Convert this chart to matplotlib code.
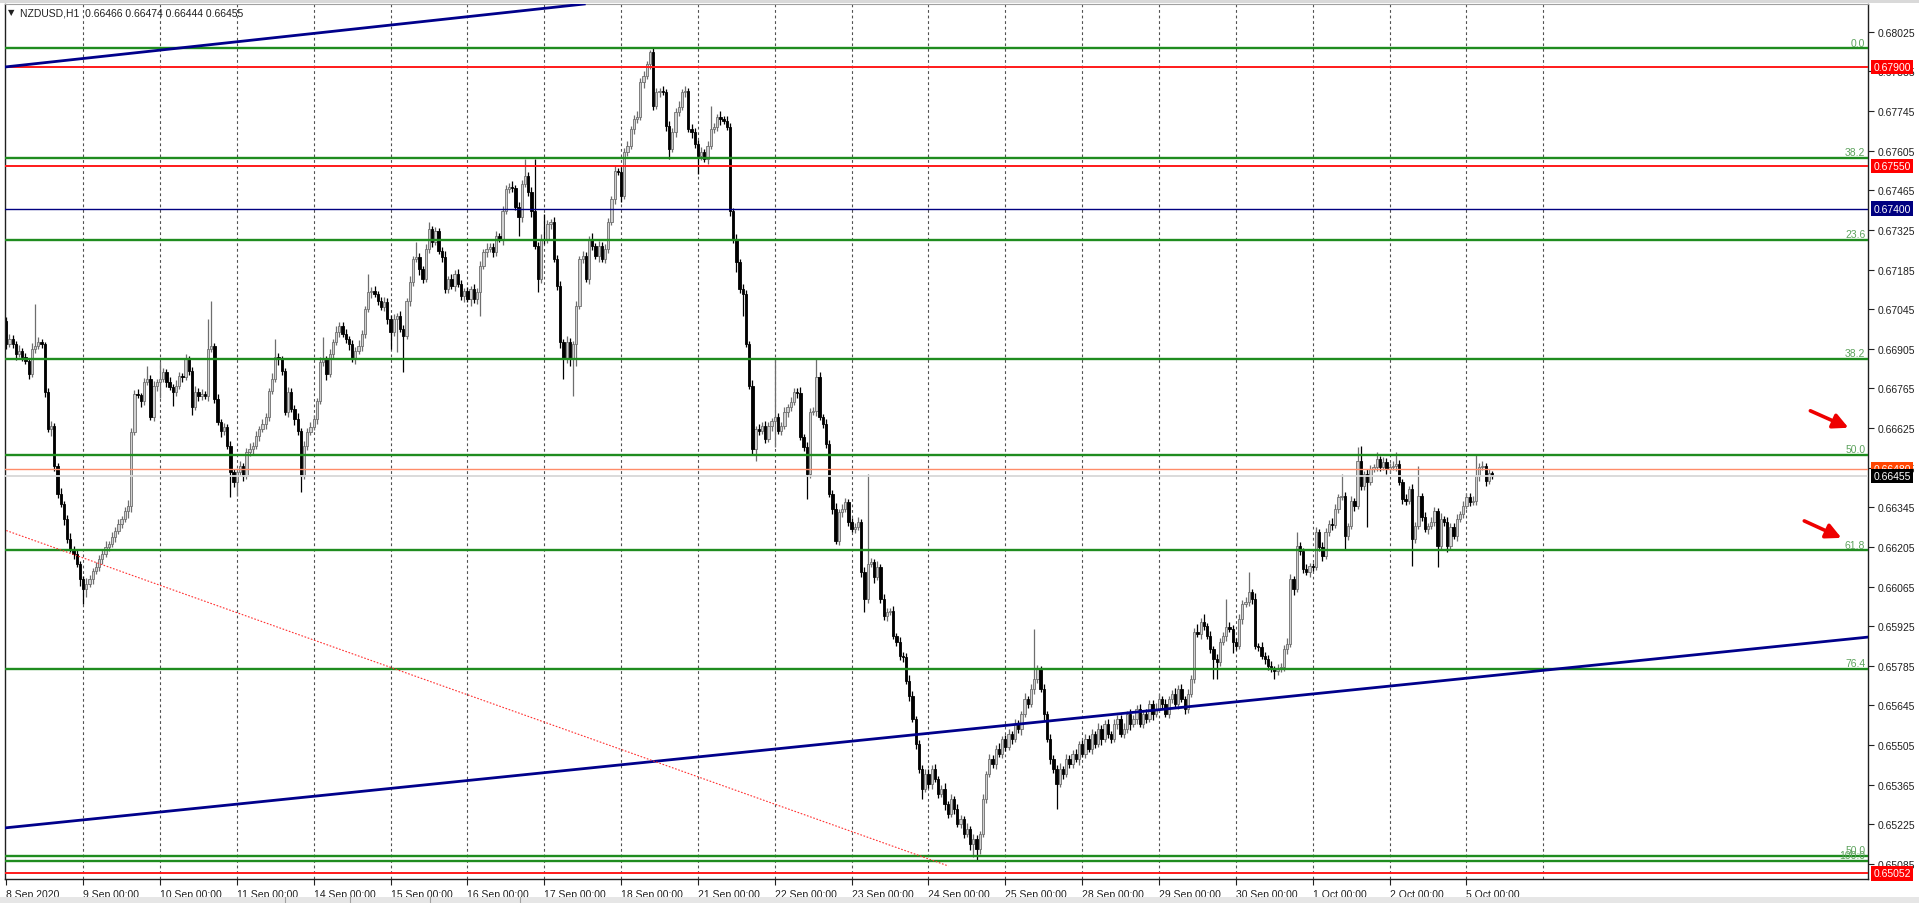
import numpy as np
import matplotlib
matplotlib.use("Agg")
import matplotlib.pyplot as plt
from matplotlib.transforms import blended_transform_factory
from matplotlib.patches import Rectangle

plt.rcParams['font.family'] = ['Liberation Sans', 'DejaVu Sans']

symbol = "NZDUSD,H1"
last_ohlc = "0.66466 0.66474 0.66444 0.66455"

day_labels = ["8 Sep 2020", "9 Sep 00:00", "10 Sep 00:00", "11 Sep 00:00", "14 Sep 00:00",
              "15 Sep 00:00", "16 Sep 00:00", "17 Sep 00:00", "18 Sep 00:00", "21 Sep 00:00",
              "22 Sep 00:00", "23 Sep 00:00", "24 Sep 00:00", "25 Sep 00:00", "28 Sep 00:00",
              "29 Sep 00:00", "30 Sep 00:00", "1 Oct 00:00", "2 Oct 00:00", "5 Oct 00:00"]
bars_per_day = 24

# hourly closes in points (1e-5), open of each bar = previous close
first_open = 67004
close_pts = [
    66922, 66940, 66922, 66887, 66898, 66876, 66862, 66816, 66905, 66915, 66929, 66922, 66753, 66622, 66633, 66491, 66393, 66357, 66304, 66234, 66198, 66181, 66145, 66092,
    66057, 66074, 66092, 66120, 66135, 66163, 66181, 66205, 66216, 66241, 66262, 66287, 66304, 66332, 66350, 66612, 66746, 66740, 66721, 66788, 66799, 66665, 66774, 66788,
    66799, 66823, 66788, 66770, 66753, 66774, 66809, 66806, 66869, 66827, 66700, 66753, 66739, 66746, 66739, 66905, 66915, 66728, 66647, 66615, 66629, 66562, 66470, 66435,
    66470, 66491, 66456, 66541, 66551, 66562, 66597, 66622, 66640, 66665, 66756, 66799, 66876, 66869, 66827, 66682, 66753, 66693, 66657, 66615, 66456, 66562, 66612, 66629,
    66657, 66721, 66859, 66869, 66816, 66887, 66929, 66965, 66986, 66958, 66940, 66922, 66869, 66898, 66915, 66958, 67046, 67106, 67110, 67099, 67074, 67053, 67071, 67011,
    66965, 67011, 67021, 66975, 66951, 67074, 67141, 67223, 67230, 67187, 67152, 67258, 67328, 67283, 67321, 67251, 67230, 67117, 67152, 67127, 67170, 67134, 67092, 67110,
    67081, 67117, 67081, 67106, 67198, 67247, 67258, 67265, 67247, 67304, 67293, 67392, 67470, 67477, 67474, 67406, 67371, 67488, 67516, 67459, 67392, 67269, 67152, 67293,
    67290, 67346, 67353, 67223, 67127, 66929, 66869, 66929, 66869, 66922, 67057, 67223, 67233, 67152, 67293, 67269, 67233, 67269, 67223, 67258, 67353, 67435, 67533, 67530,
    67445, 67601, 67622, 67682, 67717, 67724, 67848, 67869, 67911, 67954, 67763, 67812, 67816, 67812, 67692, 67611, 67671, 67742, 67759, 67812, 67816, 67682, 67671, 67629,
    67586, 67601, 67576, 67622, 67682, 67689, 67724, 67717, 67710, 67689, 67392, 67293, 67212, 67117, 67099, 66922, 66774, 66551, 66622, 66615, 66633, 66587, 66633, 66650,
    66665, 66615, 66633, 66682, 66700, 66717, 66753, 66750, 66594, 66559, 66463, 66682, 66686, 66806, 66665, 66640, 66569, 66393, 66340, 66226, 66329, 66340, 66364, 66294,
    66269, 66276, 66294, 66117, 66022, 66145, 66152, 66099, 66135, 66022, 65962, 65976, 65979, 65891, 65870, 65820, 65817, 65732, 65679, 65598, 65509, 65421, 65350, 65403,
    65368, 65421, 65386, 65333, 65350, 65297, 65262, 65315, 65280, 65227, 65244, 65191, 65209, 65156, 65174, 65138, 65191, 65315, 65403, 65456, 65439, 65492, 65474, 65527,
    65499, 65545, 65527, 65580, 65562, 65615, 65668, 65651, 65704, 65739, 65774, 65704, 65615, 65527, 65456, 65421, 65368, 65421, 65403, 65456, 65439, 65474, 65456, 65509,
    65474, 65527, 65492, 65545, 65509, 65562, 65527, 65580, 65545, 65527, 65580, 65598, 65545, 65562, 65615, 65580, 65598, 65633, 65580, 65615, 65598, 65651, 65615, 65633,
    65668, 65651, 65615, 65668, 65686, 65651, 65704, 65668, 65633, 65686, 65739, 65905, 65898, 65940, 65926, 65891, 65845, 65810, 65799, 65870, 65891, 65923, 65916, 65870,
    65856, 65951, 66004, 66011, 66046, 66022, 65856, 65852, 65820, 65810, 65785, 65774, 65767, 65774, 65781, 65845, 65863, 66092, 66057, 66209, 66191, 66128, 66117, 66138,
    66135, 66258, 66205, 66174, 66258, 66287, 66284, 66340, 66382, 66385, 66244, 66279, 66368, 66350, 66509, 66421, 66463, 66435, 66481, 66488, 66516, 66488, 66506, 66481,
    66488, 66491, 66498, 66435, 66375, 66368, 66410, 66234, 66279, 66385, 66311, 66269, 66279, 66294, 66332, 66209, 66304, 66294, 66209, 66276, 66244, 66304, 66322, 66350,
    66382, 66364, 66368, 66456, 66488, 66491, 66438, 66466, 66455,
]
# upper / lower shadow length in points
wick_up = [
    14, 18, 12, 10, 20, 11, 15, 9, 22, 148, 16, 12, 8, 14, 18, 10, 12, 20, 9, 14, 22, 12, 17, 10,
    12, 20, 15, 10, 18, 12, 14, 22, 10, 16, 12, 18, 10, 14, 20, 12, 15, 18, 10, 14, 46, 12, 16, 10,
    60, 14, 10, 18, 12, 20, 15, 12, 18, 10, 14, 22, 12, 16, 10, 106, 159, 12, 18, 10, 14, 12, 16, 10,
    12, 18, 10, 14, 20, 12, 16, 10, 18, 14, 12, 20, 64, 15, 12, 10, 18, 14, 12, 20, 10, 16, 12, 18,
    14, 10, 18, 78, 12, 16, 10, 20, 14, 12, 18, 10, 15, 12, 20, 14, 10, 64, 12, 18, 10, 14, 16, 12,
    12, 16, 10, 18, 14, 12, 20, 10, 53, 14, 12, 18, 25, 10, 16, 12, 14, 20, 10, 18, 12, 16, 14, 10,
    14, 10, 18, 12, 16, 10, 20, 14, 12, 18, 10, 16, 14, 12, 20, 10, 18, 12, 60, 14, 16, 184, 12, 18,
    88, 14, 10, 18, 12, 16, 10, 20, 14, 12, 18, 10, 16, 14, 12, 20, 10, 18, 12, 16, 14, 10, 18, 12,
    16, 12, 18, 10, 14, 20, 12, 16, 10, 8, 13, 14, 12, 18, 10, 16, 14, 12, 20, 10, 18, 12, 16, 14,
    12, 16, 10, 18, 81, 14, 12, 20, 10, 16, 14, 12, 18, 10, 16, 14, 12, 20, 10, 18, 12, 16, 14, 10,
    205, 14, 12, 18, 10, 16, 14, 12, 20, 10, 18, 14, 12, 64, 16, 10, 18, 14, 12, 20, 10, 16, 14, 12,
    14, 12, 18, 10, 16, 318, 14, 12, 20, 10, 18, 14, 12, 16, 10, 18, 14, 12, 20, 16, 10, 14, 12, 18,
    16, 12, 18, 10, 14, 20, 12, 16, 10, 18, 14, 12, 20, 10, 16, 14, 12, 18, 10, 16, 14, 12, 20, 10,
    12, 18, 10, 16, 14, 12, 20, 10, 18, 177, 14, 12, 16, 10, 18, 14, 12, 20, 10, 16, 14, 12, 18, 10,
    14, 18, 12, 16, 10, 20, 14, 12, 18, 10, 16, 14, 12, 20, 10, 18, 14, 12, 16, 10, 18, 14, 12, 20,
    16, 12, 18, 10, 14, 20, 12, 16, 10, 18, 14, 12, 28, 14, 28, 12, 16, 10, 18, 14, 12, 99, 16, 12,
    14, 18, 12, 16, 71, 12, 20, 10, 16, 14, 12, 18, 10, 16, 14, 12, 20, 18, 12, 49, 14, 10, 16, 12,
    12, 16, 10, 18, 14, 12, 20, 16, 10, 78, 14, 12, 18, 10, 49, 53, 12, 16, 14, 10, 25, 12, 16, 14,
    12, 16, 42, 14, 10, 18, 12, 16, 14, 106, 12, 18, 10, 16, 14, 12, 20, 10, 16, 14, 12, 18, 10, 16,
    14, 12, 16, 78, 12, 18, 10, 14, 8,
]
wick_dn = [
    18, 12, 15, 20, 10, 14, 9, 18, 12, 16, 10, 14, 20, 12, 25, 18, 15, 10, 22, 14, 12, 18, 10, 25,
    55, 30, 12, 18, 10, 14, 20, 12, 16, 10, 18, 12, 14, 10, 25, 20, 12, 10, 22, 14, 12, 10, 15, 18,
    56, 12, 18, 10, 50, 14, 12, 20, 10, 16, 30, 12, 18, 14, 10, 20, 12, 15, 10, 22, 14, 12, 88, 18,
    49, 12, 18, 10, 14, 20, 12, 16, 10, 18, 14, 12, 10, 20, 15, 12, 18, 10, 22, 14, 56, 12, 16, 10,
    12, 18, 10, 14, 20, 12, 16, 10, 18, 12, 14, 20, 10, 16, 12, 18, 14, 10, 20, 12, 16, 10, 14, 18,
    60, 14, 117, 12, 127, 10, 18, 14, 12, 20, 16, 10, 14, 18, 12, 10, 20, 14, 16, 12, 18, 10, 14, 20,
    12, 25, 14, 18, 85, 12, 16, 10, 18, 14, 12, 20, 10, 16, 14, 12, 67, 18, 10, 14, 20, 12, 46, 16,
    14, 12, 18, 10, 16, 20, 71, 14, 25, 131, 78, 12, 16, 10, 18, 14, 12, 20, 10, 16, 14, 12, 18, 10,
    20, 12, 16, 10, 18, 14, 12, 20, 10, 16, 14, 12, 18, 10, 16, 35, 12, 18, 14, 10, 16, 12, 20, 14,
    64, 14, 12, 18, 10, 16, 14, 20, 12, 10, 18, 14, 35, 16, 78, 12, 10, 18, 42, 14, 12, 16, 10, 18,
    92, 12, 16, 10, 18, 14, 12, 20, 10, 16, 88, 14, 12, 18, 10, 16, 14, 12, 20, 11, 14, 18, 12, 16,
    12, 16, 10, 18, 46, 14, 12, 20, 10, 16, 14, 18, 12, 10, 16, 14, 20, 12, 18, 10, 16, 14, 35, 12,
    14, 18, 12, 16, 10, 20, 14, 12, 18, 10, 16, 14, 12, 20, 46, 42, 18, 12, 16, 10, 14, 20, 12, 16,
    16, 12, 18, 10, 14, 20, 12, 16, 10, 18, 14, 12, 20, 10, 16, 14, 88, 12, 18, 10, 16, 14, 12, 20,
    12, 16, 10, 18, 14, 12, 20, 10, 16, 14, 12, 18, 10, 16, 14, 20, 12, 18, 10, 16, 14, 12, 20, 10,
    12, 18, 10, 16, 14, 12, 20, 10, 18, 14, 12, 16, 10, 18, 14, 12, 16, 71, 60, 14, 12, 18, 10, 40,
    16, 12, 18, 10, 14, 20, 12, 16, 10, 18, 14, 12, 28, 16, 10, 14, 18, 12, 20, 10, 16, 14, 12, 18,
    14, 12, 16, 18, 10, 14, 20, 12, 16, 10, 46, 14, 12, 18, 10, 16, 14, 159, 12, 10, 16, 14, 12, 18,
    14, 12, 16, 10, 18, 14, 12, 95, 16, 10, 14, 12, 18, 10, 16, 74, 12, 14, 21, 16, 12, 18, 10, 14,
    12, 16, 10, 14, 18, 12, 16, 10, 11,
]

fib_prices = [0.67967, 0.67579, 0.67290, 0.66870, 0.66531, 0.66193, 0.65774, 0.65114, 0.65096]
fib_names = ["0.0", "38.2", "23.6", "38.2", "50.0", "61.8", "76.4", "50.0", "100.0"]
red_levels = [0.67900, 0.67550, 0.65052]
navy_level = 0.67400
alert_level = 0.66480
bid_price = 0.66455

# trendline anchors: (bar index, price)
upper_channel = [(0, 0.67901), (180.5, 0.68123)]
lower_channel = [(0, 0.65213), (581.8, 0.65887)]
dotted_line = [(-1, 0.66267), (294.2, 0.65078)]
arrows = [((563.4, 0.66686), (575.3, 0.66626)),
          ((561.5, 0.66297), (573.1, 0.66237))]

close = np.array(close_pts) / 1e5
opens = np.r_[first_open / 1e5, close[:-1]]
highs = np.maximum(opens, close) + np.array(wick_up) / 1e5
lows = np.minimum(opens, close) - np.array(wick_dn) / 1e5
x = np.arange(len(close))
bull = close >= opens

W, H = 1919, 904
fig = plt.figure(figsize=(W / 100, H / 100), dpi=100)
fig.patch.set_facecolor("white")
ax = fig.add_axes([5 / W, 1 - 880 / H, 1863 / W, 875 / H])
ax.set_xlim(-0.4, 581.4)
ax.set_ylim(0.65032, 0.68123)

# day separators
for d in range(1, len(day_labels) + 1):
    ax.axvline(d * bars_per_day, color="#505050", lw=0.8, ls=(0, (2.5, 2.5)), zorder=1)

# candles
ax.vlines(x[bull], lows[bull], highs[bull], color="#6e6e6e", lw=0.9, zorder=2)
ax.vlines(x[~bull], lows[~bull], highs[~bull], color="black", lw=0.9, zorder=2)
body = np.maximum(np.abs(close - opens), 0.000015)
ax.bar(x[bull], body[bull], bottom=np.minimum(opens, close)[bull], width=0.72,
       color="#d0d0d0", edgecolor="#6e6e6e", lw=0.6, zorder=2.1)
ax.bar(x[~bull], body[~bull], bottom=np.minimum(opens, close)[~bull], width=0.72,
       color="black", edgecolor="black", lw=0.6, zorder=2.1)

# horizontal objects
trans = blended_transform_factory(ax.transAxes, ax.transData)
for p, name in zip(fib_prices, fib_names):
    ax.axhline(p, color="#1f8c1f", lw=1.7, zorder=3)
    ax.text(0.9985, p + 0.00002, name, transform=trans, ha="right", va="bottom",
            fontsize=7.5, color="#5da25d", zorder=4)
for p in red_levels:
    ax.axhline(p, color="#ff1a1a", lw=1.4, zorder=3)
ax.axhline(navy_level, color="#000080", lw=1.0, zorder=3)
ax.axhline(alert_level, color="#ff8c69", lw=1.0, zorder=3)
ax.axhline(bid_price, color="#d8d8d8", lw=1.3, zorder=3)

# trendlines
ax.axline(upper_channel[0], upper_channel[1], color="#00008b", lw=2.0, zorder=3)
ax.axline(lower_channel[0], lower_channel[1], color="#00008b", lw=2.0, zorder=3)
ax.plot([dotted_line[0][0], dotted_line[1][0]], [dotted_line[0][1], dotted_line[1][1]],
        color="#ff3030", lw=0.8, ls=(0, (1.5, 1.5)), zorder=3)

for tail, head in arrows:
    ax.annotate("", xy=head, xytext=tail,
                arrowprops=dict(arrowstyle="-|>,head_length=0.9,head_width=0.45",
                                color="#ee0000", lw=2.6, shrinkA=0, shrinkB=0), zorder=5)

# axes styling
for s in ["left", "right", "bottom"]:
    ax.spines[s].set_color("#202020")
    ax.spines[s].set_linewidth(1.0)
ax.spines["top"].set_color("#a0a0a0")
ax.yaxis.tick_right()
yt = [0.65085 + 0.0014 * k for k in range(22)]
ax.set_yticks(yt)
ax.set_yticklabels([f"{v:.5f}" for v in yt])
ax.tick_params(axis="y", length=4, width=0.8, pad=3, labelsize=7.5, colors="#202020")
ax.set_xticks([d * bars_per_day for d in range(len(day_labels))])
ax.set_xticklabels(day_labels)
ax.tick_params(axis="x", length=4, width=0.8, pad=3, labelsize=7.5, colors="#202020")
for lab in ax.get_xticklabels():
    lab.set_ha("left")

# price tags on the scale
def tag(price, text, fc):
    ax.annotate(text, xy=(1.0, price), xycoords=trans, xytext=(4, 0),
                textcoords="offset points", ha="left", va="center", fontsize=7.5,
                color="white", annotation_clip=False, zorder=6,
                bbox=dict(boxstyle="square,pad=0.22", fc=fc, ec="none"))

for p in red_levels:
    tag(p, f"{p:.5f}", "#ff0000")
tag(navy_level, f"{navy_level:.5f}", "#000080")
tag(alert_level, f"{alert_level:.5f}", "#ff4500")
tag(bid_price, f"{bid_price:.5f}", "black")

# header text
fig.text(8 / W, 1 - 13 / H, "\u25bc", fontsize=6, va="center", ha="left",
         family="DejaVu Sans", color="#202020")
fig.text(20 / W, 1 - 13 / H, f"{symbol}  {last_ohlc}", fontsize=7.5, va="center",
         ha="left", color="#202020")

# window chrome
fig.patches.append(Rectangle((0, 1 - 4 / H), 1, 4 / H, transform=fig.transFigure,
                             fc="#d9d9d9", ec="none"))
fig.patches.append(Rectangle((0, 0), 1, 6 / H, transform=fig.transFigure,
                             fc="#e6e6e6", ec="none"))
for px in [285, 350, 430, 520]:
    fig.lines.append(plt.Line2D([px / W, px / W], [0, 6 / H], transform=fig.transFigure,
                                color="#a0a0a0", lw=0.8))

fig.savefig("out.png", dpi=100, facecolor="white")
